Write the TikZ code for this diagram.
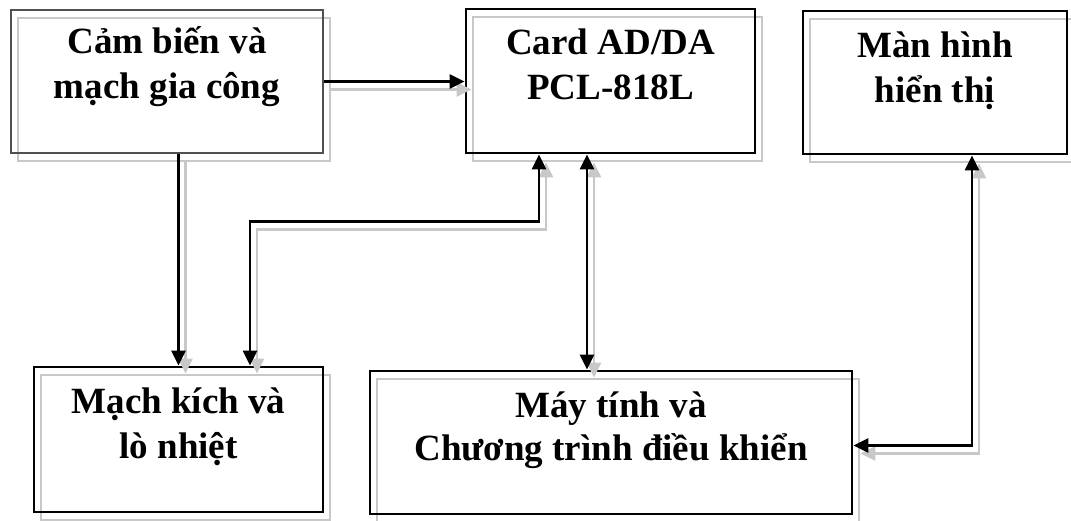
\documentclass[tikz,border=0pt]{standalone}
\usepackage{fontspec}
\setmainfont{Liberation Serif}
\usetikzlibrary{arrows.meta}
\definecolor{shadowgray}{HTML}{C8C8C8}
\definecolor{thinedge}{HTML}{505050}
\tikzset{
  blockbox/.style={draw=black, line width=2.8pt, rectangle, inner sep=0pt},
  thinbox/.style={draw=thinedge, line width=1.6pt, rectangle, inner sep=0pt},
  boxshade/.style={draw=shadowgray, line width=2pt, rectangle, inner sep=0pt},
  blocktext/.style={anchor=base, inner sep=0pt, font=\bfseries\fontsize{37}{45}\selectfont},
  link/.style={line width=2.8pt, -{Triangle[length=15pt,width=14pt]}},
  duplex/.style={line width=2.8pt, {Triangle[length=15pt,width=14pt]}-{Triangle[length=15pt,width=14pt]}},
  drop/.style={draw=shadowgray, color=shadowgray, transform canvas={shift={(7,8)}}}
}
\begin{document}
\begin{tikzpicture}[x=1pt, y=-1pt]
\useasboundingbox (0,0) rectangle (1071,521);

% drop shadows of the blocks
\node[boxshade, minimum width=312pt, minimum height=143pt] (sensorS) at (174,89.5) {};
\node[boxshade, minimum width=289pt, minimum height=144pt] (cardS) at (617.5,89) {};
\node[boxshade, minimum width=264pt, minimum height=143pt] (screenS) at (942,90.5) {};
\node[boxshade, minimum width=289pt, minimum height=145pt] (driverS) at (185.5,447.5) {};
\node[boxshade, minimum width=482pt, minimum height=143pt] (pcS) at (618,450.5) {};

% blocks
\node[thinbox, minimum width=312pt, minimum height=143pt] (sensor) at (167,81.5) {};
\node[blockbox, minimum width=289pt, minimum height=144pt] (card) at (610.5,81) {};
\node[blockbox, minimum width=264pt, minimum height=143pt] (screen) at (935,82.5) {};
\node[blockbox, minimum width=289pt, minimum height=145pt] (driver) at (178.5,439.5) {};
\node[blockbox, minimum width=482pt, minimum height=143pt] (pc) at (611,442.5) {};

% block labels
\node[blocktext] (sensorT) at (167,54) {\begin{tabular}[t]{@{}c@{}}Cảm biến và\\mạch gia công\end{tabular}};
\node[blocktext] (cardT) at (610.5,55) {\begin{tabular}[t]{@{}c@{}}Card AD/DA\\PCL-818L\end{tabular}};
\node[blocktext] (screenT) at (935,58) {\begin{tabular}[t]{@{}c@{}}Màn hình\\hiển thị\end{tabular}};
\node[blocktext] (driverT) at (178.5,413) {\begin{tabular}[t]{@{}c@{}}Mạch kích và\\lò nhiệt\end{tabular}};
\node[blocktext, font=\bfseries\fontsize{37}{43}\selectfont] (pcT) at (611,417) {\begin{tabular}[t]{@{}c@{}}Máy tính và\\Chương trình điều khiển\end{tabular}};

% connector shadows
\begin{scope}[drop]
  \draw[link] (sensor.east) -- (card.west |- sensor.east);
  \draw[link] (sensor.south -| driver.north) -- (driver.north);
  \draw[duplex] ([xshift=71.5]driver.north) -- ++(0,-144) -| ([xshift=-71.5]card.south);
  \draw[duplex] ([xshift=-23.5]card.south) -- ([xshift=-23.5]card.south |- pc.north);
  \draw[duplex] ([xshift=37]screen.south) |- ([yshift=-3pt]pc.east);
\end{scope}

% connectors
\draw[link] (sensor.east) -- (card.west |- sensor.east);
\draw[link] (sensor.south -| driver.north) -- (driver.north);
\draw[duplex] ([xshift=71.5]driver.north) -- ++(0,-144) -| ([xshift=-71.5]card.south);
\draw[duplex] ([xshift=-23.5]card.south) -- ([xshift=-23.5]card.south |- pc.north);
\draw[duplex] ([xshift=37]screen.south) |- ([yshift=-3pt]pc.east);
\end{tikzpicture}
\end{document}
